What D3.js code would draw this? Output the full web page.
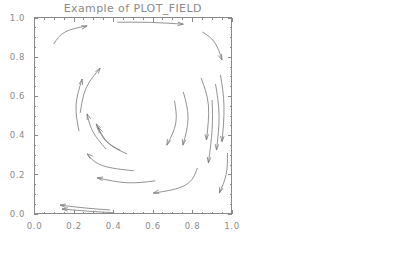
<!DOCTYPE html>
<html>
<head>
<meta charset="utf-8">
<script src="https://d3js.org/d3.v7.min.js"></script>
<style>
  body { margin: 0; background: #fff; }
  svg { display: block; }
  .axis path, .axis line { stroke: #8a8a8a; shape-rendering: crispEdges; }
  .axis text { fill: #8a8a8a; font-family: "DejaVu Sans", sans-serif; font-size: 8.5px; letter-spacing: 0.6px; }
</style>
</head>
<body>
<script>
'use strict';

// streamlines, each a list of [x, y] in data units, drawn tail to head
var streamTopLeft = [[0.10, 0.865], [0.157, 0.926], [0.269, 0.957]];
var streamTop = [[0.421, 0.976], [0.59, 0.975], [0.756, 0.966]];
var streamTopRight = [[0.853, 0.926], [0.914, 0.874], [0.952, 0.783]];
var streamLeftA = [[0.228, 0.420], [0.213, 0.554], [0.244, 0.686]];
var streamLeftB = [[0.234, 0.513], [0.264, 0.640], [0.335, 0.742]];
var streamInner1 = [[0.365, 0.329], [0.299, 0.416], [0.269, 0.508]];
var streamInner2 = [[0.472, 0.304], [0.376, 0.360], [0.315, 0.457]];
var streamInner3 = [[0.437, 0.322], [0.362, 0.372], [0.325, 0.44]];
var streamMid = [[0.505, 0.218], [0.345, 0.245], [0.269, 0.304]];
var streamLow = [[0.614, 0.167], [0.472, 0.157], [0.32, 0.182]];
var streamLowRight = [[0.827, 0.232], [0.767, 0.145], [0.604, 0.104]];
var streamBottomA = [[0.386, 0.018], [0.26, 0.028], [0.132, 0.043]];
var streamBottomB = [[0.401, 0.004], [0.27, 0.012], [0.142, 0.023]];
var streamRight1 = [[0.711, 0.576], [0.718, 0.462], [0.673, 0.349]];
var streamRight2 = [[0.756, 0.620], [0.780, 0.487], [0.754, 0.349]];
var streamRight3 = [[0.846, 0.691], [0.883, 0.553], [0.873, 0.375]];
var streamRight4 = [[0.919, 0.661], [0.937, 0.50], [0.924, 0.324]];
var streamRight5 = [[0.944, 0.707], [0.962, 0.55], [0.952, 0.366]];
var streamRight6 = [[0.902, 0.579], [0.902, 0.43], [0.883, 0.258]];
var streamRight7 = [[0.980, 0.309], [0.973, 0.20], [0.939, 0.105]];

var streams = [
    streamTopLeft, streamTop, streamTopRight, streamLeftA, streamLeftB,
    streamInner1, streamInner2, streamInner3, streamMid, streamLow,
    streamLowRight, streamBottomA, streamBottomB, streamRight1, streamRight2,
    streamRight3, streamRight4, streamRight5, streamRight6, streamRight7
];

var majorTicks = [0, 0.2, 0.4, 0.6, 0.8, 1.0];
var minorTicks = d3.range(0, 1.0001, 0.05);
var title = 'Example of PLOT_FIELD';

var width = 401,
    height = 278,
    padL = 34,
    padR = 231.5,
    padT = 17.5,
    padB = 213.5,
    ink = '#8a8a8a';

var svg = d3.select('body').append('svg')
    .attr('width', width)
    .attr('height', height);

var x = d3.scaleLinear().domain([0, 1]).range([padL, padR]);
var y = d3.scaleLinear().domain([0, 1]).range([padB, padT]);

function fmt(d) { return d3.format('.1f')(d); }

// ticks on all four sides, pointing inward
function addAxis(axisFn, scale, tr, ticks, size, labels) {
    var a = axisFn(scale).tickValues(ticks).tickSizeInner(-size).tickSizeOuter(0)
        .tickPadding(labels ? 9 : 0)
        .tickFormat(labels ? fmt : '');
    var g = svg.append('g').attr('class', 'axis').attr('transform', tr).call(a);
    g.select('.domain').remove();
    return g;
}

addAxis(d3.axisBottom, x, 'translate(0,' + padB + ')', minorTicks, 2, false);
addAxis(d3.axisTop, x, 'translate(0,' + padT + ')', minorTicks, 2, false);
addAxis(d3.axisLeft, y, 'translate(' + padL + ',0)', minorTicks, 2, false);
addAxis(d3.axisRight, y, 'translate(' + padR + ',0)', minorTicks, 2, false);

var xb = addAxis(d3.axisBottom, x, 'translate(0,' + padB + ')', majorTicks, 4, true);
xb.selectAll('text').attr('dy', '0.8em');
addAxis(d3.axisTop, x, 'translate(0,' + padT + ')', majorTicks, 4, false);
addAxis(d3.axisLeft, y, 'translate(' + padL + ',0)', majorTicks, 4, true);
addAxis(d3.axisRight, y, 'translate(' + padR + ',0)', majorTicks, 4, false);

// frame
svg.append('rect')
    .attr('x', padL).attr('y', padT)
    .attr('width', padR - padL).attr('height', padB - padT)
    .attr('fill', 'none')
    .attr('stroke', ink)
    .attr('stroke-width', 1)
    .attr('shape-rendering', 'crispEdges');

svg.append('text')
    .attr('x', (padL + padR) / 2)
    .attr('y', 12)
    .attr('text-anchor', 'middle')
    .attr('fill', ink)
    .style('font-family', '"DejaVu Sans", sans-serif')
    .style('font-size', '11px')
    .style('letter-spacing', '0.4px')
    .text(title);

var line = d3.line()
    .x(function(d) { return x(d[0]); })
    .y(function(d) { return y(d[1]); })
    .curve(d3.curveNatural);

var g = svg.append('g')
    .attr('fill', 'none')
    .attr('stroke', '#777')
    .attr('stroke-width', 0.8);

g.selectAll('path.stream')
    .data(streams)
    .enter().append('path')
    .attr('class', 'stream')
    .attr('d', line);

// open arrowheads at the end of each streamline
var headLen = 6,
    headAng = 0.3;

g.selectAll('path.head')
    .data(streams)
    .enter().append('path')
    .attr('class', 'head')
    .attr('d', function(s) {
        var p1 = s[s.length - 1],
            p0 = s[s.length - 2],
            hx = x(p1[0]), hy = y(p1[1]),
            // direction of the final piece of the curve
            mx = x(p0[0] * 0.3 + p1[0] * 0.7), my = y(p0[1] * 0.3 + p1[1] * 0.7),
            ang = Math.atan2(hy - my, hx - mx);
        var a1 = ang + Math.PI - headAng,
            a2 = ang + Math.PI + headAng;
        return 'M' + (hx + headLen * Math.cos(a1)) + ',' + (hy + headLen * Math.sin(a1)) +
            'L' + hx + ',' + hy +
            'L' + (hx + headLen * Math.cos(a2)) + ',' + (hy + headLen * Math.sin(a2));
    });
</script>
</body>
</html>
